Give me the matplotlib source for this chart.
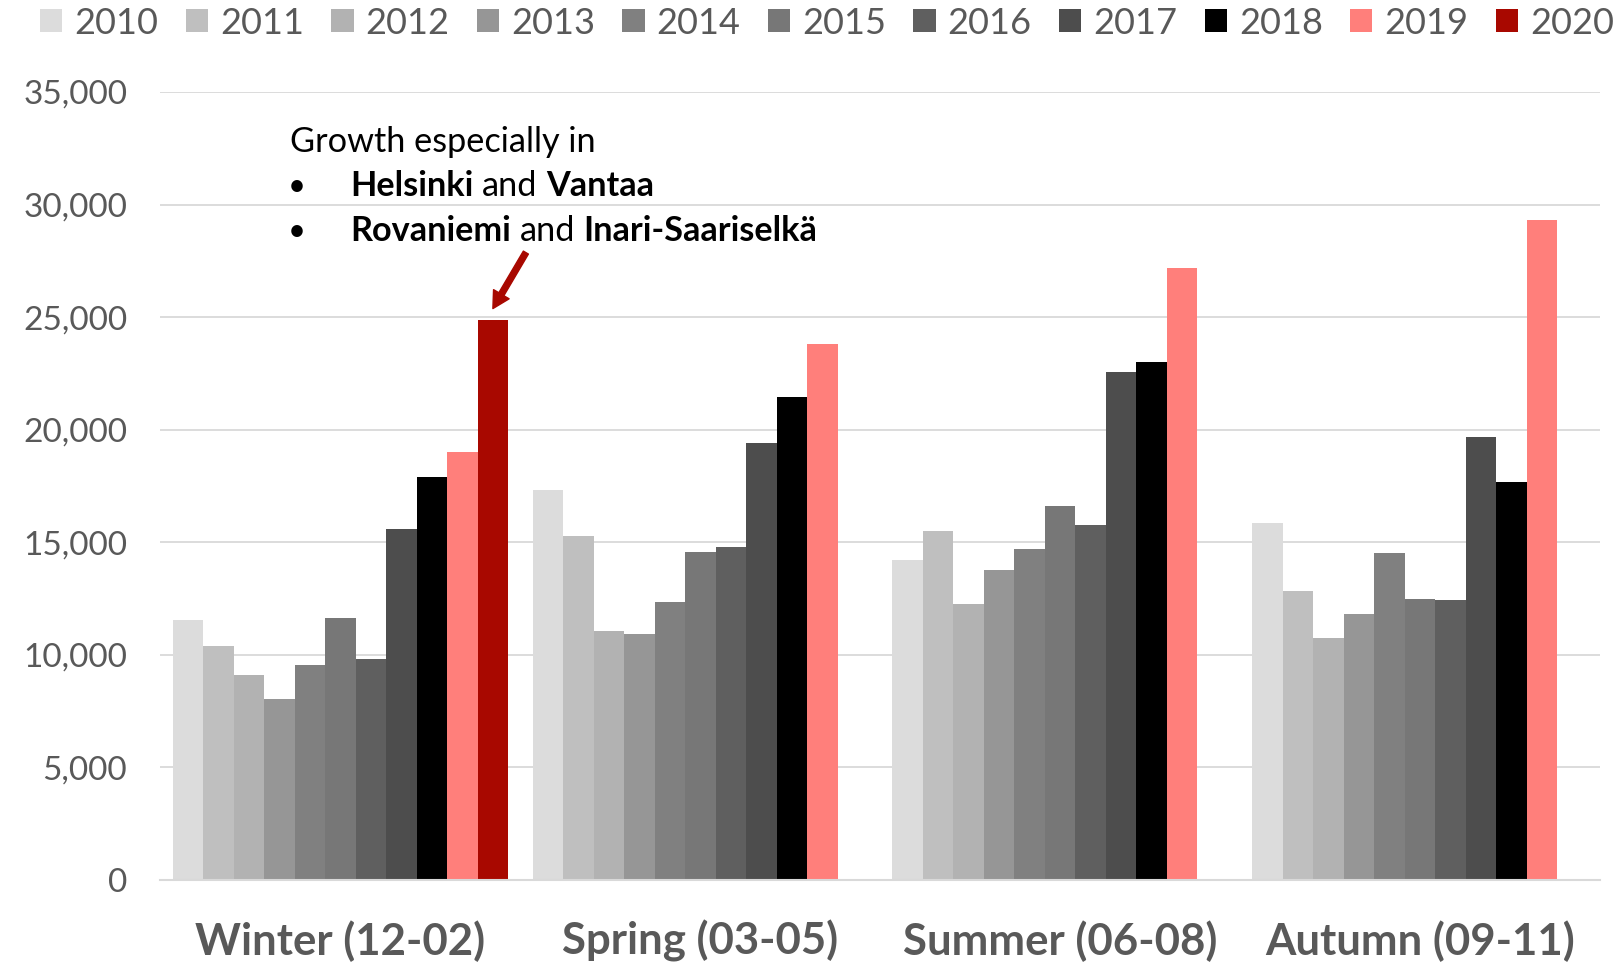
import numpy as np
import matplotlib
matplotlib.use("Agg")
import matplotlib.pyplot as plt
from matplotlib.patches import Patch
from matplotlib.ticker import FuncFormatter, MultipleLocator

plt.rcParams['font.family'] = ['Lato', 'DejaVu Sans']

# ---- data ----
years = ['2010', '2011', '2012', '2013', '2014', '2015', '2016', '2017', '2018', '2019', '2020']
seasons = ['Winter (12-02)', 'Spring (03-05)', 'Summer (06-08)', 'Autumn (09-11)']
winter = [11530, 10400, 9100, 8050, 9560, 11650, 9830, 15610, 17920, 19020, 24880]
spring = [17320, 15290, 11080, 10920, 12330, 14550, 14800, 19390, 21450, 23810, np.nan]
summer = [14220, 15520, 12270, 13770, 14710, 16630, 15780, 22560, 23000, 27190, np.nan]
autumn = [15840, 12850, 10750, 11810, 14530, 12460, 12450, 19690, 17690, 29320, np.nan]
colors = ['#DCDCDC', '#BFBFBF', '#B2B2B2', '#969696', '#808080', '#777777',
          '#5F5F5F', '#4D4D4D', '#000000', '#FF7F7B', '#A80800']
annot_title = 'Growth especially in'
annot_lines = [[('Helsinki', 'bold'), ('and', 'normal'), ('Vantaa', 'bold')],
               [('Rovaniemi', 'bold'), ('and', 'normal'), ('Inari-Saariselkä', 'bold')]]

W, H = 1624, 966
fig = plt.figure(figsize=(W / 100, H / 100), dpi=100)
ax_l, ax_r, ax_b, ax_t = 160.5, 1600, 880, 92
ax = fig.add_axes([ax_l / W, (H - ax_b) / H, (ax_r - ax_l) / W, (ax_b - ax_t) / H])

table = np.array([winter, spring, summer, autumn])  # seasons x years
n = len(years)
x = np.arange(len(seasons))
bw = 30.5 / 360.0
for j, (yr, c) in enumerate(zip(years, colors)):
    ax.bar(x - n * bw / 2 + bw * (j + 0.5), table[:, j], width=bw, color=c,
           edgecolor='none', linewidth=0, zorder=2)

ax.set_xlim(-0.5, len(seasons) - 0.5)
ax.set_ylim(0, 35000)
ax.yaxis.set_major_locator(MultipleLocator(5000))
ax.yaxis.set_major_formatter(FuncFormatter(lambda v, p: f'{v:,.0f}'))
ax.yaxis.grid(True, color='#D9D9D9', linewidth=1.3)
ax.set_axisbelow(True)
for s in ['top', 'right', 'left']:
    ax.spines[s].set_visible(False)
ax.spines['bottom'].set_color('#D9D9D9')
ax.spines['bottom'].set_linewidth(1.5)
ax.spines['bottom'].set_zorder(3)
ax.tick_params(axis='y', length=0, pad=24, labelsize=24, labelcolor='#595959')
ax.set_xticks(x)
ax.set_xticklabels(seasons, fontsize=31.5, fontweight='bold', color='#595959')
ax.tick_params(axis='x', length=0, pad=29)

# legend
handles = [Patch(facecolor=c, edgecolor='none', label=y) for y, c in zip(years, colors)]
fig.legend(handles=handles, loc='center left', bbox_to_anchor=(40 / W, 1 - 23 / H),
           ncol=n, frameon=False, fontsize=26, handlelength=0.62, handleheight=0.62,
           handletextpad=0.33, columnspacing=0.755, borderpad=0, borderaxespad=0,
           labelcolor='#595959')

# arrow annotation pointing at Winter 2020 bar
tip_x = x[0] - n * bw / 2 + bw * (n - 0.5)
ax.annotate('', xy=(tip_x, winter[-1] + 500), xytext=(33, 56), textcoords='offset pixels',
            arrowprops=dict(facecolor='#A80800', edgecolor='#A80800', width=4.2,
                            headwidth=13, headlength=12, shrink=0), zorder=5)

# annotation text (pixel layout)
fs_ann = 24.7
def fy(ypix):
    return 1 - ypix / H

fig.text(290 / W, fy(142), annot_title, fontsize=fs_ann, color='black', va='center', ha='left')
renderer = fig.canvas.get_renderer()
t1 = fig.text(0, 0, 'aa', fontsize=fs_ann)
t2 = fig.text(0, 0, 'a a', fontsize=fs_ann)
space = t2.get_window_extent(renderer).width - t1.get_window_extent(renderer).width
t1.remove(); t2.remove()
for line, ypix in zip(annot_lines, [186.5, 231]):
    fig.text(297 / W, fy(ypix), '•', fontsize=fs_ann * 0.9, color='black', va='center', ha='center')
    xp = 350
    for k, (word, wt) in enumerate(line):
        t = fig.text(xp / W, fy(ypix), word, fontsize=fs_ann, fontweight=wt, color='black',
                     va='center', ha='left')
        xp += t.get_window_extent(renderer).width + space

fig.savefig('out.png', dpi=100)
